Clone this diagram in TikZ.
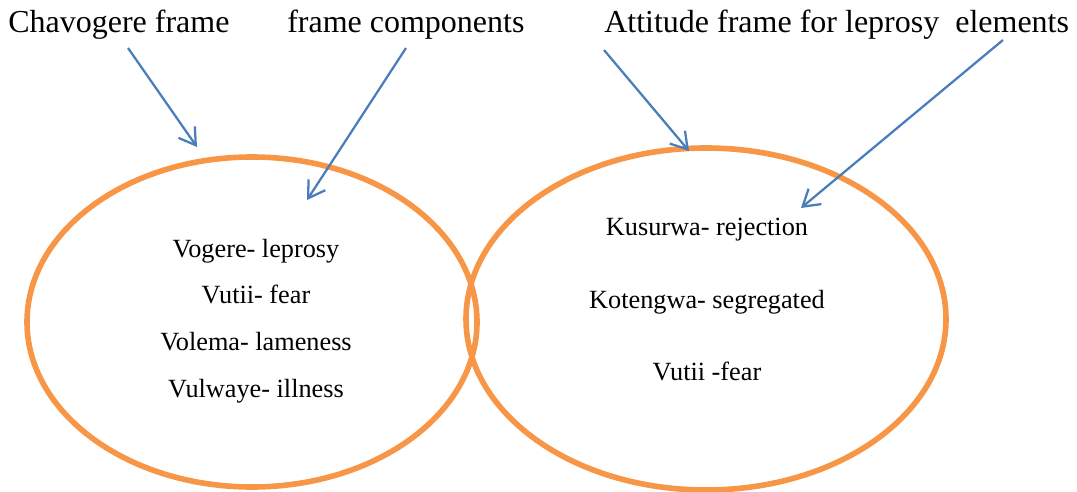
\documentclass[tikz,border=0pt]{standalone}
\usepackage{fontspec}
\setmainfont{Liberation Serif}
\usetikzlibrary{arrows.meta,shapes.geometric}
\definecolor{frameorange}{HTML}{F79646}
\definecolor{pointerblue}{HTML}{4A7EBB}
\begin{document}
\begin{tikzpicture}[x=0.75pt,y=-0.75pt,
  frameoval/.style={ellipse,draw=frameorange,line width=4.2pt,inner sep=0pt},
  pointer/.style={draw=pointerblue,line width=1.7pt,-{Straight Barb[length=12pt,width=15pt]}},
  heading/.style={anchor=base west,inner sep=0pt,font=\fontsize{24}{28}\selectfont},
  item/.style={anchor=base,inner sep=0pt,font=\fontsize{19.7}{23}\selectfont}]
  \useasboundingbox (0,0) rectangle (1077,492);

  % the two frames
  \node[frameoval,minimum width=337.5pt,minimum height=247.5pt] (chav) at (252,322) {};
  \node[frameoval,minimum width=360pt,minimum height=256.5pt] (att) at (706,319) {};

  % headings
  \node[heading] (hchav) at (8,33) {Chavogere frame};
  \node[heading] (hcomp) at (287,33) {frame components};
  \node[heading] (hatt) at (604,33) {Attitude frame for leprosy\ \ elements};

  % components of the Chavogere frame
  \node[item] (c1) at (256,257) {Vogere- leprosy};
  \node[item] (c2) at (256,303) {Vutii- fear};
  \node[item] (c3) at (256,350) {Volema- lameness};
  \node[item] (c4) at (256,397) {Vulwaye- illness};

  % elements of the attitude frame
  \node[item] (a1) at (707,235) {Kusurwa- rejection};
  \node[item] (a2) at (707,308) {Kotengwa- segregated};
  \node[item] (a3) at (707,380) {Vutii -fear};

  % pointers from the headings
  \coordinate (p1s) at (128,48);  \coordinate (p1e) at (197,147);
  \coordinate (p2s) at (406,48);  \coordinate (p2e) at (307,200);
  \coordinate (p3s) at (604,50);  \coordinate (p3e) at (689,151);
  \coordinate (p4s) at (1003,40); \coordinate (p4e) at (801,208);
  \draw[pointer] (p1s) -- (p1e);
  \draw[pointer] (p2s) -- (p2e);
  \draw[pointer] (p3s) -- (p3e);
  \draw[pointer] (p4s) -- (p4e);
\end{tikzpicture}
\end{document}
